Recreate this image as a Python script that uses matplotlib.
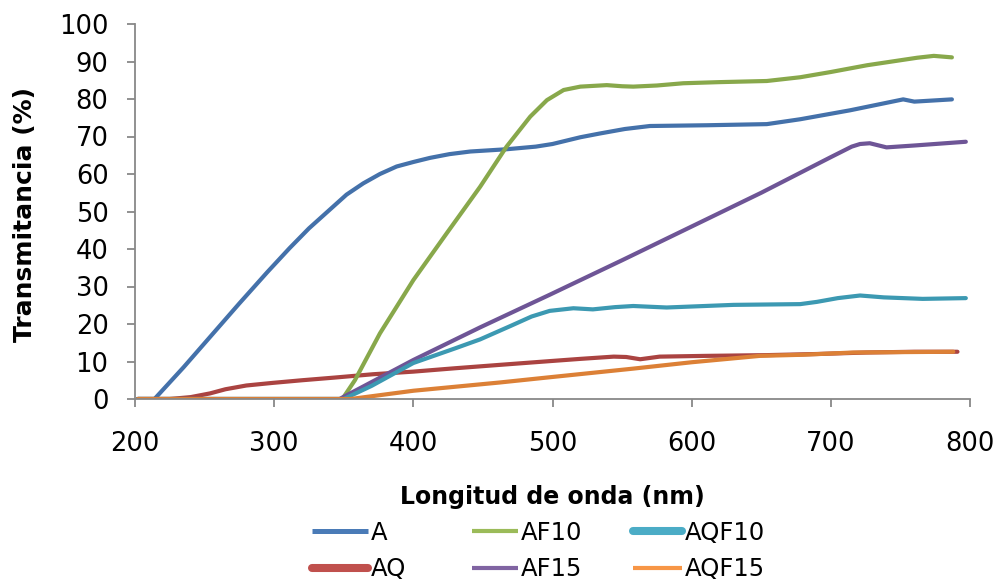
import matplotlib
matplotlib.use("Agg")
import matplotlib.pyplot as plt
from matplotlib.lines import Line2D

plt.rcParams['font.family'] = ['DejaVu Sans']

# ---- data ----
A_x = [202, 214, 235, 255, 275, 295, 311, 325, 340, 352, 364, 376, 388, 400, 412, 426,
       441, 467, 488, 500, 520, 534, 552, 570, 611, 654, 678, 714, 752, 760, 787]
A_y = [0, 0, 8.5, 17, 25.5, 33.8, 40.2, 45.5, 50.5, 54.5, 57.5, 60, 62, 63.2, 64.3, 65.3,
       66, 66.6, 67.3, 68, 69.8, 70.8, 72, 72.8, 73, 73.3, 74.6, 77, 79.9, 79.3, 79.9]

AQ_x = [202, 225, 240, 254, 265, 280, 299, 320, 343, 371, 400, 430, 462, 498, 520, 544,
        553, 563, 577, 610, 654, 690, 726, 760, 791]
AQ_y = [0, 0, 0.5, 1.5, 2.6, 3.6, 4.3, 5.0, 5.7, 6.6, 7.3, 8.2, 9.1, 10.1, 10.7, 11.3,
        11.2, 10.6, 11.3, 11.5, 11.7, 12.0, 12.4, 12.6, 12.6]

AF10_x = [202, 349, 358, 376, 400, 424, 448, 467, 484, 496, 508, 520, 539, 550,
          558, 575, 594, 620, 654, 678, 700, 726, 762, 774, 787]
AF10_y = [0, 0, 5, 17.5, 31.7, 44.2, 56.6, 67.3, 75.3, 79.7, 82.4, 83.3, 83.7, 83.4,
          83.3, 83.6, 84.2, 84.5, 84.8, 85.8, 87.2, 89, 91, 91.5, 91.1]

AF15_x = [202, 347, 400, 448, 498, 550, 600, 650, 700, 715, 721, 728, 740, 760, 797]
AF15_y = [0, 0, 10.4, 19.1, 27.8, 37, 46, 55, 64.5, 67.3, 68, 68.2, 67.1, 67.6, 68.6]

AQF10_x = [202, 350, 370, 400, 430, 448, 470, 485, 498, 515, 529, 545, 558, 582, 630, 678,
           690, 705, 721, 738, 766, 797]
AQF10_y = [0, 0, 3.5, 9.6, 13.5, 15.9, 19.5, 22, 23.5, 24.2, 23.9, 24.5, 24.8, 24.4, 25.1, 25.3,
           25.9, 26.9, 27.6, 27.1, 26.7, 26.9]

AQF15_x = [202, 355, 400, 462, 498, 558, 600, 649, 680, 716, 750, 788]
AQF15_y = [0, 0, 2.2, 4.4, 5.8, 8.1, 9.8, 11.5, 11.8, 12.4, 12.5, 12.6]

labels = ["A", "AQ", "AF10", "AF15", "AQF10", "AQF15"]
line_colors = ["#4471AA", "#AA4341", "#88A84B", "#6E5596", "#3C99B2", "#DC8036"]
leg_colors = ["#4A7BB7", "#C0504D", "#9BBB59", "#8064A2", "#4BACC6", "#F79646"]
leg_widths = [3.6, 5.8, 3.0, 3.0, 5.8, 3.0]
leg_caps = ["butt", "round", "butt", "butt", "round", "butt"]

xs = [A_x, AQ_x, AF10_x, AF15_x, AQF10_x, AQF15_x]
ys = [A_y, AQ_y, AF10_y, AF15_y, AQF10_y, AQF15_y]

W, H = 998, 582
fig = plt.figure(figsize=(W / 100, H / 100), dpi=100)
ax = fig.add_axes([135 / W, 1 - 399 / H, (970 - 135) / W, (399 - 24) / H])

for x, y, c in zip(xs, ys, line_colors):
    ax.plot(x, y, color=c, lw=3.0, solid_capstyle="round", solid_joinstyle="round")

ax.set_xlim(200, 800)
ax.set_ylim(0, 100)
ax.set_xticks(range(200, 801, 100))
ax.set_yticks(range(0, 101, 10))

for s in ["top", "right"]:
    ax.spines[s].set_visible(False)
for s in ["left", "bottom"]:
    ax.spines[s].set_color("#888888")
    ax.spines[s].set_linewidth(1.3)

ax.tick_params(axis="both", which="major", direction="out", length=6, width=1.3,
               color="#888888", labelsize=18.5, labelcolor="black")
ax.tick_params(axis="y", pad=13)
ax.tick_params(axis="x", pad=17)

ax.set_xlabel("Longitud de onda (nm)", fontsize=17, fontweight="bold", labelpad=20)
fig.text(25 / W, 1 - 215 / H, "Transmitancia (%)", rotation=90, fontsize=18,
         fontweight="bold", ha="center", va="center")

# legend: three columns placed individually
col_x = [312, 472, 633]
col_hl = [2.3, 1.9, 2.0]
for ci in range(3):
    idx = [ci * 2, ci * 2 + 1]
    handles = [Line2D([0], [0], color=leg_colors[i], lw=leg_widths[i],
                      solid_capstyle=leg_caps[i]) for i in idx]
    fig.legend(handles, [labels[i] for i in idx], loc="upper left",
               bbox_to_anchor=(col_x[ci] / W, 1 - 521 / H),
               frameon=False, fontsize=17.5, handlelength=col_hl[ci],
               handletextpad=0.12, labelspacing=0.5, borderpad=0, borderaxespad=0)

fig.savefig("out.png", dpi=100)
